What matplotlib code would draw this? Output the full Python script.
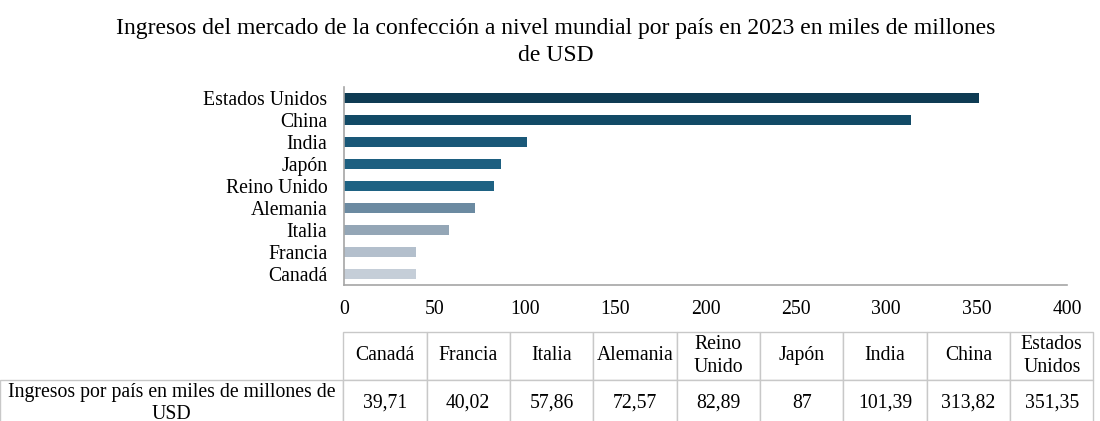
import matplotlib
matplotlib.use("Agg")
import matplotlib.pyplot as plt

plt.rcParams['font.family'] = ['Liberation Serif', 'DejaVu Serif']

paises = ["Canadá", "Francia", "Italia", "Alemania", "Reino Unido",
          "Japón", "India", "China", "Estados Unidos"]
ingresos = [39.71, 40.02, 57.86, 72.57, 82.89, 87, 101.39, 313.82, 351.35]
etiquetas_tabla = ["39,71", "40,02", "57,86", "72,57", "82,89",
                   "87", "101,39", "313,82", "351,35"]
colores = ["#c5ced8", "#b3bfcc", "#94a6b6", "#6b8aa1", "#1e6283",
           "#1d5f80", "#1a5878", "#124a66", "#0e3b53"]
titulo = ("Ingresos del mercado de la confección a nivel mundial por país en 2023 "
          "en miles de millones\nde USD")
fila_nombre = "Ingresos por país en miles de millones de\nUSD"

fig = plt.figure(figsize=(11, 4.21), dpi=100)

ax = fig.add_axes([0.3127, 0.323, 0.6573, 0.47])
ypos = range(len(paises))
ax.barh(ypos, ingresos, height=0.44, color=colores)
ax.set_yticks(list(ypos))
ax.set_yticklabels(paises, fontsize=14.2)
ax.set_xlim(0, 400)
ax.set_ylim(-0.5, len(paises) - 0.5)
ax.set_xticks(range(0, 401, 50))
ax.tick_params(axis='x', labelsize=14.2, length=0, pad=11)
ax.tick_params(axis='y', length=0, pad=12)
for s in ["top", "right"]:
    ax.spines[s].set_visible(False)
for s in ["left", "bottom"]:
    ax.spines[s].set_color("#a6a6a6")
    ax.spines[s].set_linewidth(1.2)

fig.text(0.505, 0.958, titulo, ha="center", va="top", fontsize=17,
         linespacing=1.4)

# tabla de datos
tax = fig.add_axes([0, 0, 1, 1])
tax.axis("off")
encabezado = [""] + [p.replace(" ", "\n") for p in paises]
datos = [fila_nombre] + etiquetas_tabla
ancho_izq = 0.312
ancho_col = (0.994 - ancho_izq) / len(paises)
tabla = tax.table(cellText=[encabezado, datos],
                  colWidths=[ancho_izq] + [ancho_col] * len(paises),
                  cellLoc="center",
                  bbox=[0, -0.015, 0.994, 0.226])
tabla.auto_set_font_size(False)
tabla.set_fontsize(14.2)
for (r, c), cell in tabla.get_celld().items():
    cell.set_edgecolor("#c8c8c8")
    cell.set_linewidth(1.0)
    cell.get_text().set_linespacing(1.25)
tabla[0, 0].visible_edges = ""

fig.savefig("out.png", dpi=100)
